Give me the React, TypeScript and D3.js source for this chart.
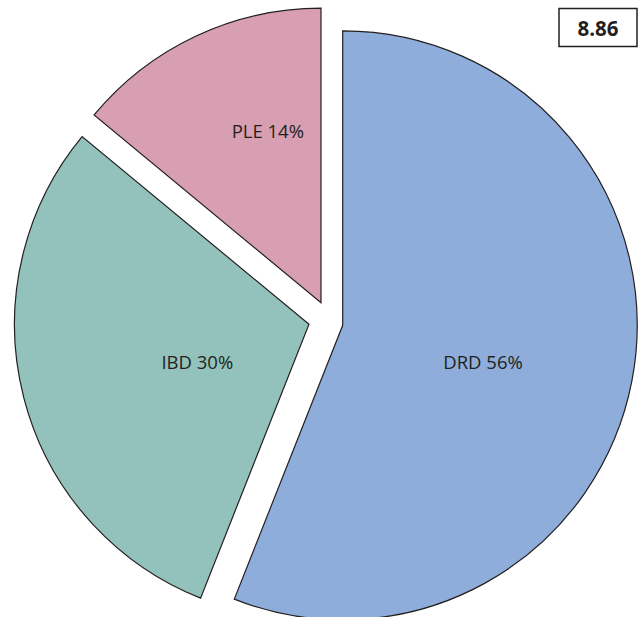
import React from "react";
import * as d3 from "d3";

// Share of each category (percent)
const categories = ["DRD", "IBD", "PLE"];
const shares = [56, 30, 14];
const scoreLabel = "8.86";

// Visual settings
const WIDTH = 638;
const HEIGHT = 617;
const CENTER = { x: 321, y: 325 };
const RADIUS = 294.5;
const COLORS = ["#8fadda", "#93c2bc", "#d89fb2"];
const STROKE = "#231f20";
// Pull-out of each wedge from the common centre
const EXPLODE: [number, number][] = [
  [21.7, 0.3],
  [-12, -0.7],
  [0, -22.3],
];
// Label anchor (text baseline centre) relative to the common centre
const LABEL_POS: [number, number][] = [
  [162, 44],
  [-123.7, 44],
  [-53.2, -187.3],
];

export default function App() {
  const pie = d3
    .pie<number>()
    .sort(null)
    .value((d) => d)
    .startAngle(0)
    .endAngle(2 * Math.PI);
  const arcs = pie(shares);
  const arc = d3.arc<d3.PieArcDatum<number>>().innerRadius(0).outerRadius(RADIUS);

  return (
    <svg
      width={WIDTH}
      height={HEIGHT}
      style={{ position: "absolute", left: 0, top: 0, background: "#fff" }}
      fontFamily="'Open Sans', 'Noto Sans', sans-serif"
    >
      <g transform={`translate(${CENTER.x},${CENTER.y})`}>
        {arcs.map((a, i) => (
          <path
            key={categories[i]}
            d={arc(a) || ""}
            transform={`translate(${EXPLODE[i][0]},${EXPLODE[i][1]})`}
            fill={COLORS[i]}
            stroke={STROKE}
            strokeWidth={1.2}
            strokeLinejoin="miter"
          />
        ))}
        {arcs.map((a, i) => (
          <text
            key={"l" + categories[i]}
            x={LABEL_POS[i][0]}
            y={LABEL_POS[i][1]}
            textAnchor="middle"
            fontSize={18.5}
            fill="#231f20"
          >
            {`${categories[i]} ${a.data}%`}
          </text>
        ))}
      </g>
      <rect x={559} y={8.5} width={78} height={38} fill="#fff" stroke={STROKE} strokeWidth={1.5} />
      <text x={598} y={36} textAnchor="middle" fontSize={20.5} fontWeight="bold" fill="#231f20">
        {scoreLabel}
      </text>
    </svg>
  );
}
